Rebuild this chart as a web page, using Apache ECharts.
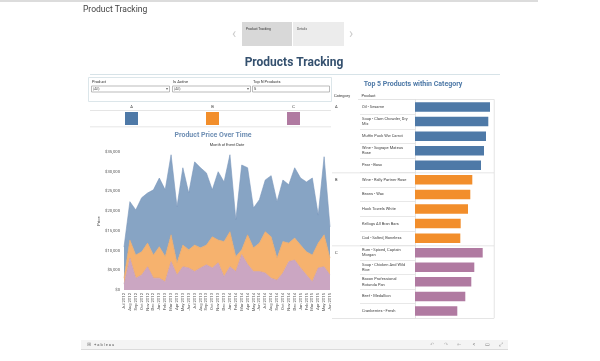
<!DOCTYPE html>
<html>
<head>
<meta charset="utf-8">
<script src="https://cdn.jsdelivr.net/npm/echarts@6/dist/echarts.min.js"></script>
<style>
html,body{margin:0;padding:0;background:#fff;}
#c{width:600px;height:361px;}
</style>
</head>
<body>
<div id="c"></div>
<script>
// ---- Data ----
var months = ['Jul 2012','Aug 2012','Sep 2012','Oct 2012','Nov 2012','Dec 2012','Jan 2013','Feb 2013','Mar 2013','Apr 2013','May 2013','Jun 2013','Jul 2013','Aug 2013','Sep 2013','Oct 2013','Nov 2013','Dec 2013','Jan 2014','Feb 2014','Mar 2014','Apr 2014','May 2014','Jun 2014','Jul 2014','Aug 2014','Sep 2014','Oct 2014','Nov 2014','Dec 2014','Jan 2015','Feb 2015','Mar 2015','Apr 2015','May 2015','Jun 2015'];
var priceA = [7900,9700,11400,13700,12700,16500,17400,16900,20300,14200,19600,14400,21100,20300,18300,11900,17300,15100,19500,9300,21500,17000,10100,11000,13100,15500,14300,15600,14800,17800,17000,17700,19500,7100,19800,7900];
var priceB = [1500,4600,5900,5900,6000,5900,8000,6400,6800,3100,5500,4600,6700,5100,5000,7900,5800,8900,8900,3800,1200,7500,6000,7200,10500,10500,5600,8000,4700,5600,5800,5900,6800,6300,8100,4300];
var priceC = [1500,8100,3000,3800,5900,3000,3000,2100,7200,3800,5900,5600,4700,5600,6400,5600,6900,3400,5900,4700,9000,6500,4700,4700,4300,3000,2500,4300,7200,7600,5600,3800,2100,5600,5900,3800];
var yTicks = [0,5000,10000,15000,20000,25000,30000,35000];

var categories = ['A','B','C'];
var products = ['Oil - Sesame','Soup - Clam Chowder, Dry Mix','Muffin Puck Ww Carrot','Wine - Sogrape Mateus Rose','Pear - Bosc',
                'Wine - Rally Partner Rose','Beans - Wax','Huck Towels White','Kellogs All Bran Bars','Cod - Salted, Boneless',
                'Rum - Spiced, Captain Morgan','Soup - Chicken And Wild Rice','Bacon Professional Rotunda Pan','Beef - Medallion','Cranberries - Fresh'];
var productCategory = ['A','A','A','A','A','B','B','B','B','B','C','C','C','C','C'];
var productPrice = [7500,7330,7100,6900,6600,5730,5530,5300,4570,4530,6770,5930,5630,5030,4230];

// ---- Styles ----
var barColors = {A:'#4e79a7', B:'#f28e2b', C:'#b07aa1'};
var areaColors = {A:'#87a4c4', B:'#f6b26e', C:'#cba6c2'};
var areaLine = {A:'#7896ba', B:'#eea45c', C:'#bf97b5'};
var FF = 'Roboto, "Noto Sans", sans-serif';

function money(v){ return '$' + v.toString().replace(/\B(?=(\d{3})+(?!\d))/g, ','); }

var chart = echarts.init(document.getElementById('c'), null, {renderer:'canvas'});

function txt(x,y,s,opt){
  opt = opt || {};
  return {type:'text', silent:true, style:{x:x,y:y,text:s,fontSize:opt.fs||4.5,fontWeight:opt.fw||'normal',
    fill:opt.fill||'#333',align:opt.align||'left',verticalAlign:'middle',fontFamily:FF}};
}
function rect(x,y,w,h,fill,stroke){
  return {type:'rect', silent:true, shape:{x:x,y:y,width:w,height:h},
    style:{fill:fill||'none',stroke:stroke||null,lineWidth:stroke?0.8:0}};
}

var graphics = [
  rect(0,0,538,2,'#dcdcdc'),
  txt(83,10,'Product Tracking',{fs:8.5,fill:'#444'}),
  rect(242,22,50,24,'#d8d8d8'),
  rect(293,22,51,24,'#ececec'),
  txt(246,29,'Product Tracking',{fs:3.3,fill:'#333'}),
  txt(297,29,'Details',{fs:3.3,fill:'#555'}),
  txt(234,34,'‹',{fs:14,fill:'#ccc',align:'center'}),
  txt(351,34,'›',{fs:14,fill:'#ccc',align:'center'}),
  txt(294,62.5,'Products Tracking',{fs:12,fw:'bold',fill:'#34506e',align:'center'}),
  rect(90,74,410,1,'#d7e3e8'),
  // filters
  rect(88.5,77.5,243,24,null,'#d3dfe5'),
  txt(92,82,'Product',{fs:4}),
  txt(173,82,'Is Active',{fs:4}),
  txt(253,82,'Top N Products',{fs:4}),
  rect(91.5,86,78,6,'#fff','#aaa'),
  rect(172.5,86,78,6,'#fff','#aaa'),
  rect(252.5,86,77,6,'#fff','#aaa'),
  txt(93,89,'(All)',{fs:3.6,fill:'#555'}),
  txt(174,89,'(All)',{fs:3.6,fill:'#555'}),
  txt(254,89,'5',{fs:4,fill:'#333'}),
  txt(167,89,'▾',{fs:3.6,fill:'#666',align:'center'}),
  txt(248,89,'▾',{fs:3.6,fill:'#666',align:'center'}),
  // legend
  txt(131.5,106.5,'A',{fs:4,align:'center'}),
  txt(212.5,106.5,'B',{fs:4,align:'center'}),
  txt(293.5,106.5,'C',{fs:4,align:'center'}),
  rect(90,110,241,0.8,'#ddd'),
  rect(125,112,13,13,barColors.A),
  rect(206,112,13,13,barColors.B),
  rect(287,112,13,13,barColors.C),
  rect(90,126.5,241,0.8,'#ddd'),
  txt(213,135,'Product Price Over Time',{fs:7,fw:'bold',fill:'#6f8fb4',align:'center'}),
  txt(227,145.5,'Month of Event Date',{fs:3.8,align:'center'}),
  // right panel
  txt(413,84.5,'Top 5 Products within Category',{fs:7,fw:'bold',fill:'#4e79a7',align:'center'}),
  txt(334,95.8,'Category',{fs:4}),
  txt(361.5,95.8,'Product',{fs:4}),
  rect(358,99.3,136,0.8,'#ddd'),
  rect(332,172.4,162,0.8,'#ddd'),
  rect(332,245.5,162,0.8,'#ddd'),
  rect(332,318.2,162,0.8,'#ddd'),
  rect(493.8,99.3,0.8,219,'#ddd'),
  txt(335,106.7,'A',{fs:4}),
  txt(335,179.6,'B',{fs:4}),
  txt(335,252.6,'C',{fs:4}),
  // toolbar
  rect(81,340,427,9,'#f4f4f4'),
  rect(81,349,427,0.8,'#cfcfcf'),
  txt(87,344.8,'⊞',{fs:5,fill:'#888'}),
  txt(94,344.8,'+ a b | e a u',{fs:4,fill:'#555'}),
  txt(432,344.8,'↶',{fs:5,fill:'#bbb',align:'center'}),
  txt(446,344.8,'↷',{fs:5,fill:'#bbb',align:'center'}),
  txt(459,344.8,'⇤',{fs:5,fill:'#bbb',align:'center'}),
  txt(474,344.8,'<',{fs:5,fill:'#777',align:'center'}),
  txt(487,344.8,'▭',{fs:5,fill:'#777',align:'center'}),
  txt(501,344.8,'⤢',{fs:5,fill:'#777',align:'center'})
];

var cats = ['C','B','A'];
var seriesData = {A:priceA, B:priceB, C:priceC};
var series = cats.map(function(k){
  return {
    name:k, type:'line', stack:'total', xAxisIndex:0, yAxisIndex:0,
    data:seriesData[k], symbol:'none', smooth:false,
    lineStyle:{width:0.6,color:areaLine[k]},
    areaStyle:{color:areaColors[k],opacity:1},
    emphasis:{disabled:true}
  };
});

series.push({
  type:'bar', xAxisIndex:1, yAxisIndex:1, barWidth:9.5,
  data: productPrice.map(function(v,i){ return {value:v, itemStyle:{color:barColors[productCategory[i]]}}; }),
  emphasis:{disabled:true}
});

chart.setOption({
  animation:false,
  backgroundColor:'#fff',
  textStyle:{fontFamily:FF},
  graphic: graphics,
  grid:[
    {left:124, top:152, width:206, height:138},
    {left:415, top:99.7, width:80, height:218.6}
  ],
  xAxis:[
    {type:'category', gridIndex:0, data:months, boundaryGap:false,
     axisLine:{show:false}, axisTick:{show:false},
     axisLabel:{rotate:90, interval:0, fontSize:4.2, color:'#555', margin:3, fontFamily:FF}},
    {type:'value', gridIndex:1, min:0, max:8000, show:false}
  ],
  yAxis:[
    {type:'value', gridIndex:0, min:yTicks[0], max:yTicks[yTicks.length-1], interval:5000,
     name:'Price', nameLocation:'middle', nameGap:23, nameRotate:90,
     nameTextStyle:{fontSize:4.2,color:'#444',fontFamily:FF},
     axisLine:{show:false}, axisTick:{show:false}, splitLine:{show:false},
     axisLabel:{fontSize:4.2,color:'#555',margin:4,formatter:function(v){return money(v);},fontFamily:FF}},
    {type:'category', gridIndex:1, data:products, inverse:true,
     axisLine:{show:true,lineStyle:{color:'#ddd',width:0.8}},
     axisTick:{show:true,length:55,interval:0,lineStyle:{color:'#e2e2e2',width:0.8}},
     axisLabel:{align:'left', margin:53, width:50, overflow:'break', fontSize:4, lineHeight:5.5, color:'#444', interval:0, fontFamily:FF},
     splitLine:{show:false}}
  ],
  series: series
});
</script>
</body>
</html>
